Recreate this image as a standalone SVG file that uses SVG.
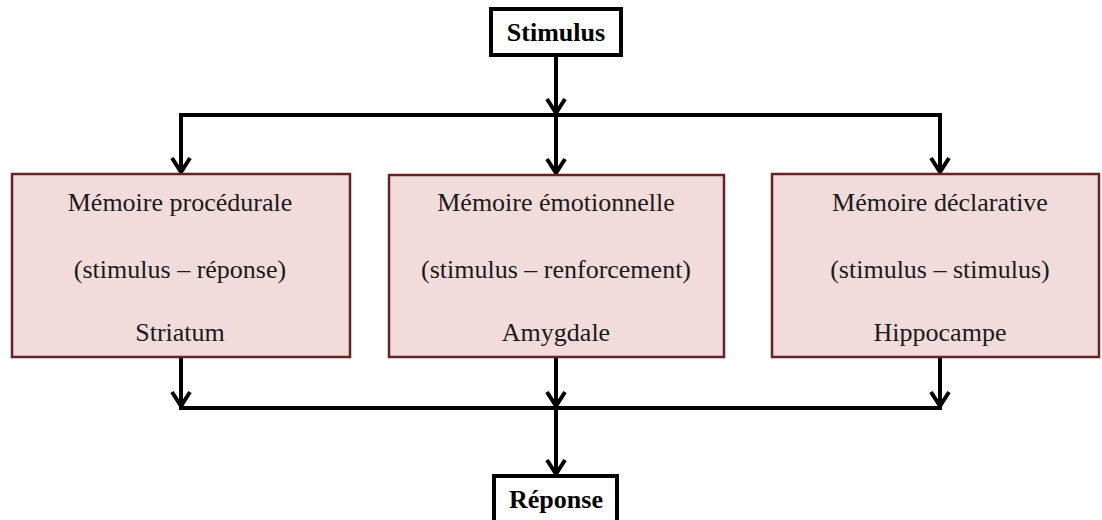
<svg xmlns="http://www.w3.org/2000/svg" width="1102" height="520" viewBox="0 0 1102 520">
<style>
.box{fill:#f2dcdb;stroke:#632523;stroke-width:2.5}
.term{fill:#fff;stroke:#000;stroke-width:4}
.lbl{font-family:"Liberation Serif","Times New Roman",serif;font-size:26px;fill:#1a1a1a;text-anchor:middle}
.bold{font-weight:bold;fill:#000}
.conn{stroke:#000;stroke-width:4;fill:none}
</style>
<defs>
<marker id="chev" markerUnits="userSpaceOnUse" viewBox="-18 -13 22 26" markerWidth="22" markerHeight="26" refX="0" refY="0" orient="auto">
<path d="M-14,-9 L0,0 L-14,9" fill="none" stroke="#000" stroke-width="4" stroke-linejoin="miter"/>
</marker>
</defs>
<g id="connectors">
<line class="conn" x1="556" y1="55" x2="556" y2="113" marker-end="url(#chev)"/>
<line class="conn" x1="179" y1="115" x2="942" y2="115"/>
<line class="conn" x1="181" y1="113" x2="181" y2="172" marker-end="url(#chev)"/>
<line class="conn" x1="556" y1="115" x2="556" y2="173" marker-end="url(#chev)"/>
<line class="conn" x1="940" y1="113" x2="940" y2="172" marker-end="url(#chev)"/>
<line class="conn" x1="181" y1="357" x2="181" y2="406" marker-end="url(#chev)"/>
<line class="conn" x1="556" y1="357" x2="556" y2="406" marker-end="url(#chev)"/>
<line class="conn" x1="940" y1="357" x2="940" y2="406" marker-end="url(#chev)"/>
<line class="conn" x1="179" y1="408" x2="942" y2="408"/>
<line class="conn" x1="556" y1="408" x2="556" y2="474" marker-end="url(#chev)"/>
</g>
<g id="stimulus">
<rect class="term" x="491" y="9" width="130" height="46"/>
<text class="lbl bold" x="556" y="41">Stimulus</text>
</g>
<g id="procedurale">
<rect class="box" x="12" y="174" width="338" height="183"/>
<text class="lbl" x="180" y="211">Mémoire procédurale</text>
<text class="lbl" x="180" y="278">(stimulus – réponse)</text>
<text class="lbl" x="180" y="341">Striatum</text>
</g>
<g id="emotionnelle">
<rect class="box" x="389" y="175" width="335" height="182"/>
<text class="lbl" x="556" y="211">Mémoire émotionnelle</text>
<text class="lbl" x="556" y="278">(stimulus – renforcement)</text>
<text class="lbl" x="556" y="341">Amygdale</text>
</g>
<g id="declarative">
<rect class="box" x="772" y="174" width="327" height="183"/>
<text class="lbl" x="940" y="211">Mémoire déclarative</text>
<text class="lbl" x="940" y="278">(stimulus – stimulus)</text>
<text class="lbl" x="940" y="341">Hippocampe</text>
</g>
<g id="reponse">
<rect class="term" x="494" y="476" width="123" height="48"/>
<text class="lbl bold" x="556" y="508">Réponse</text>
</g>
</svg>
